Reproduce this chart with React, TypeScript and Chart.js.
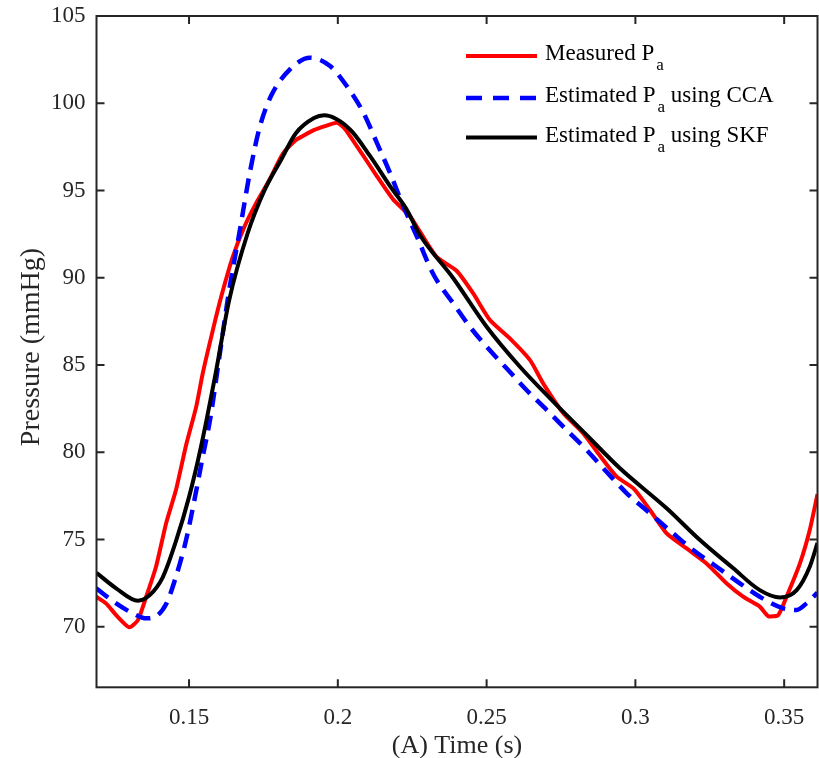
import React, { useEffect, useRef } from 'react';
import { Chart, registerables } from 'chart.js';

Chart.register(...registerables);

// Measured Pa (red)
const measuredT = [0.1188, 0.1221, 0.1255, 0.1299, 0.1328, 0.1356, 0.1389, 0.1423, 0.1456, 0.149, 0.1524, 0.1546, 0.158, 0.1608, 0.1647, 0.1686, 0.1725, 0.177, 0.1815, 0.1859, 0.188, 0.1921, 0.196, 0.1996, 0.202, 0.2041, 0.2086, 0.2131, 0.2186, 0.2242, 0.2276, 0.2332, 0.2399, 0.2455, 0.2511, 0.2578, 0.2646, 0.269, 0.2758, 0.2825, 0.2881, 0.2937, 0.2995, 0.3049, 0.3105, 0.3172, 0.3239, 0.3306, 0.3362, 0.3418, 0.3446, 0.348, 0.3508, 0.3553, 0.3586, 0.3612];
const measuredP = [71.72, 71.34, 70.67, 69.97, 70.38, 71.72, 73.44, 75.93, 77.83, 80.4, 82.6, 84.52, 87.0, 88.91, 91.2, 92.92, 94.26, 95.6, 97.1, 97.89, 98.1, 98.47, 98.7, 98.88, 98.6, 98.12, 96.98, 95.83, 94.49, 93.54, 92.64, 91.2, 90.4, 89.1, 87.58, 86.53, 85.28, 83.95, 82.23, 81.08, 79.8, 78.6, 77.9, 76.69, 75.35, 74.49, 73.63, 72.49, 71.72, 71.15, 70.61, 70.67, 71.72, 73.63, 75.54, 77.6];

// Estimated Pa using CCA (blue dashed)
const ccaT = [0.1188, 0.1255, 0.1311, 0.1356, 0.1389, 0.1423, 0.1456, 0.149, 0.1518, 0.1546, 0.1571, 0.1602, 0.1635, 0.1669, 0.1704, 0.1737, 0.1775, 0.1839, 0.1907, 0.1974, 0.203, 0.2086, 0.2131, 0.2175, 0.222, 0.2265, 0.2321, 0.2388, 0.2444, 0.25, 0.2567, 0.2634, 0.2702, 0.2769, 0.2836, 0.2903, 0.2971, 0.3049, 0.3127, 0.3194, 0.3273, 0.3351, 0.3418, 0.3497, 0.3542, 0.3575, 0.3612];
const ccaP = [72.2, 71.34, 70.77, 70.48, 70.6, 71.3, 72.87, 74.97, 77.26, 79.74, 81.9, 85.47, 89.3, 92.55, 96.0, 98.6, 100.4, 101.94, 102.61, 102.13, 100.99, 99.46, 97.74, 96.02, 94.11, 92.39, 90.2, 88.53, 87.19, 86.05, 84.81, 83.57, 82.42, 81.27, 80.13, 78.88, 77.65, 76.5, 75.35, 74.4, 73.44, 72.49, 71.72, 71.05, 70.96, 71.34, 71.95];

// Estimated Pa using SKF (black)
const skfT = [0.1189, 0.1255, 0.1328, 0.1367, 0.1412, 0.1456, 0.1501, 0.154, 0.1587, 0.1635, 0.1697, 0.1753, 0.1809, 0.1859, 0.192, 0.1954, 0.2041, 0.2108, 0.2175, 0.2231, 0.2276, 0.2388, 0.25, 0.2612, 0.2724, 0.2836, 0.2948, 0.3105, 0.3217, 0.3329, 0.3418, 0.3486, 0.3542, 0.3586, 0.3612];
const skfP = [73.09, 72.2, 71.49, 71.8, 72.85, 74.9, 77.5, 80.3, 84.3, 88.72, 92.55, 94.99, 96.75, 98.28, 99.15, 99.31, 98.5, 96.98, 95.26, 93.92, 92.45, 89.97, 87.19, 84.9, 82.9, 80.99, 79.08, 76.79, 74.97, 73.35, 72.1, 71.68, 72.1, 73.44, 74.8];

const xTicks = [0.15, 0.2, 0.25, 0.3, 0.35];
const yTicks = [70, 75, 80, 85, 90, 95, 100, 105];

const X_MIN = 0.1189;
const X_MAX = 0.3612;
const Y_MIN = 66.53;
const Y_MAX = 105;

const xTitle = '(A) Time (s)';
const yTitle = 'Pressure (mmHg)';
const legendMain = ['Measured P', 'Estimated P', 'Estimated P'];
const legendSub = ['a', 'a', 'a'];
const legendRest = ['', ' using CCA', ' using SKF'];
const SERIF = "'Liberation Serif', 'Times New Roman', serif";
const AXIS_COLOR = '#262626';

const framePlugin = {
  id: 'frameAndLegend',
  afterDraw(chart: any) {
    const { ctx, chartArea: a, scales } = chart;
    ctx.save();
    ctx.strokeStyle = AXIS_COLOR;
    ctx.lineWidth = 2;
    ctx.strokeRect(a.left, a.top, a.right - a.left, a.bottom - a.top);
    const L = 8;
    ctx.beginPath();
    for (const v of xTicks) {
      const x = scales.x.getPixelForValue(v);
      ctx.moveTo(x, a.bottom);
      ctx.lineTo(x, a.bottom - L);
      ctx.moveTo(x, a.top);
      ctx.lineTo(x, a.top + L);
    }
    for (const v of yTicks) {
      const y = scales.y.getPixelForValue(v);
      ctx.moveTo(a.left, y);
      ctx.lineTo(a.left + L, y);
      ctx.moveTo(a.right, y);
      ctx.lineTo(a.right - L, y);
    }
    ctx.stroke();

    // y-axis title
    ctx.save();
    ctx.translate(32, 347);
    ctx.rotate(-Math.PI / 2);
    ctx.fillStyle = AXIS_COLOR;
    ctx.font = `28px ${SERIF}`;
    ctx.textAlign = 'center';
    ctx.textBaseline = 'middle';
    ctx.fillText(yTitle, 0, 0);
    ctx.restore();

    // legend
    const ds = chart.data.datasets;
    const lx0 = 466, lx1 = 537, tx = 545;
    const rows = [56, 98, 137.5];
    for (let i = 0; i < 3; i++) {
      const y = rows[i];
      ctx.beginPath();
      ctx.strokeStyle = ds[i].borderColor;
      ctx.lineWidth = ds[i].borderWidth;
      ctx.setLineDash(ds[i].borderDash ? [16, 11] : []);
      ctx.moveTo(lx0, y);
      ctx.lineTo(lx1, y);
      ctx.stroke();
      ctx.setLineDash([]);
      ctx.fillStyle = '#000';
      ctx.textBaseline = 'alphabetic';
      ctx.textAlign = 'left';
      ctx.font = `23px ${SERIF}`;
      const base = y + 4;
      ctx.fillText(legendMain[i], tx, base);
      let x = tx + ctx.measureText(legendMain[i]).width + 2;
      ctx.font = `17px ${SERIF}`;
      ctx.fillText(legendSub[i], x, base + 10);
      x += ctx.measureText(legendSub[i]).width;
      ctx.font = `23px ${SERIF}`;
      ctx.fillText(legendRest[i], x, base);
    }
    ctx.restore();
  },
};

export default function App() {
  const ref = useRef<HTMLCanvasElement>(null);
  useEffect(() => {
    if (!ref.current) return;
    const tickFont = { family: SERIF, size: 23 };
    const titleFont = { family: SERIF, size: 26, lineHeight: 1 };
    const chart = new Chart(ref.current, {
      type: 'line',
      data: {
        datasets: [
          {
            label: 'Measured Pa',
            data: measuredT.map((t, i) => ({ x: t, y: measuredP[i] })),
            borderColor: '#ff0000',
            borderWidth: 4,
            pointRadius: 0,
            tension: 0.2,
            order: 3,
          },
          {
            label: 'Estimated Pa using CCA',
            data: ccaT.map((t, i) => ({ x: t, y: ccaP[i] })),
            borderColor: '#0000ff',
            borderWidth: 4.5,
            borderDash: [15, 9],
            pointRadius: 0,
            cubicInterpolationMode: 'monotone',
            order: 2,
          },
          {
            label: 'Estimated Pa using SKF',
            data: skfT.map((t, i) => ({ x: t, y: skfP[i] })),
            borderColor: '#000000',
            borderWidth: 4,
            pointRadius: 0,
            cubicInterpolationMode: 'monotone',
            order: 1,
          },
        ] as any,
      },
      options: {
        responsive: false,
        devicePixelRatio: 1,
        animation: false,
        layout: { padding: { top: 16, right: 1.5, left: 0, bottom: 0 } },
        plugins: { legend: { display: false }, tooltip: { enabled: false } },
        scales: {
          x: {
            type: 'linear',
            min: X_MIN,
            max: X_MAX,
            grid: { display: false, drawTicks: false },
            border: { display: false },
            afterBuildTicks: (s: any) => { s.ticks = xTicks.map((v) => ({ value: v })); },
            afterFit: (s: any) => { s.height = 70.7; s.paddingLeft = 0; s.paddingRight = 0; s.paddingTop = 0; s.paddingBottom = 0; },
            ticks: { font: tickFont, color: AXIS_COLOR, padding: 17, maxRotation: 0, callback: (v: any) => String(v) },
            title: { display: true, text: xTitle, font: titleFont, color: AXIS_COLOR, padding: { top: 0, bottom: -1 } },
          },
          y: {
            type: 'linear',
            min: Y_MIN,
            max: Y_MAX,
            grid: { display: false, drawTicks: false },
            border: { display: false },
            afterBuildTicks: (s: any) => { s.ticks = yTicks.map((v) => ({ value: v })); },
            afterFit: (s: any) => { s.width = 96.5; s.paddingLeft = 0; s.paddingRight = 0; s.paddingTop = 0; s.paddingBottom = 0; },
            ticks: { font: tickFont, color: AXIS_COLOR, padding: 11, callback: (v: any) => String(v) },
            title: { display: false },
          },
        },
      } as any,
      plugins: [framePlugin],
    });
    return () => chart.destroy();
  }, []);
  return (
    <div style={{ position: 'absolute', left: 0, top: 0, width: 819, height: 758, background: '#fff' }}>
      <canvas ref={ref} width={819} height={758} style={{ display: 'block' }} />
    </div>
  );
}
